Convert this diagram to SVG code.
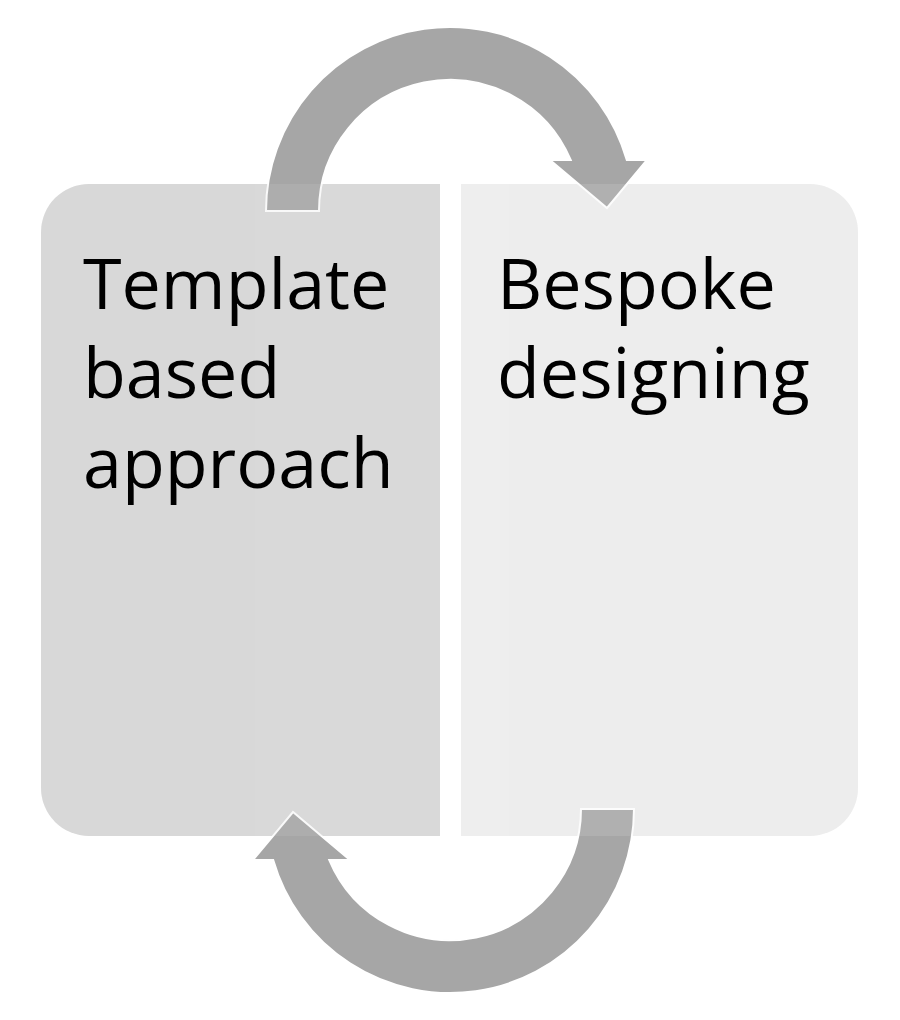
<svg xmlns="http://www.w3.org/2000/svg" xmlns:xlink="http://www.w3.org/1999/xlink" width="900" height="1020" viewBox="0 0 900 1020">
  <style>
    .lbl { font-family: "Open Sans", "Liberation Sans", sans-serif; font-size: 70px; fill: #000000; }
    .arrow { fill: #a6a6a6; stroke: #ffffff; stroke-width: 2; stroke-linejoin: miter; }
  </style>
  <defs>
    <path id="shape-left" d="M 89 184 L 440 184 L 440 836 L 89 836 A 48 48 0 0 1 41 788 L 41 232 A 48 48 0 0 1 89 184 Z"/>
    <path id="shape-right" d="M 461 184 L 810 184 A 48 48 0 0 1 858 232 L 858 788 A 48 48 0 0 1 810 836 L 461 836 Z"/>
    <path id="circ-arrow" d="M 266 211 A 184 184 0 0 1 626.8 160 L 647 160 L 607 208 L 550 160 L 570.7 160 A 131 131 0 0 0 319 211 Z"/>
  </defs>
  <rect width="900" height="1020" fill="#ffffff"/>
  <g id="node-template">
    <use xlink:href="#shape-left" fill="#d9d9d9"/>
  </g>
  <g id="node-bespoke">
    <use xlink:href="#shape-right" fill="#eeeeee"/>
  </g>
  <g id="connectors">
    <use xlink:href="#circ-arrow" class="arrow"/>
    <use xlink:href="#circ-arrow" class="arrow" transform="rotate(180 450 510)"/>
  </g>
  <g id="panel-tint" opacity="0.15">
    <use xlink:href="#shape-left" fill="#d9d9d9"/>
    <use xlink:href="#shape-right" fill="#eeeeee"/>
  </g>
  <g id="labels">
    <text class="lbl" x="83" y="309">Template</text>
    <text class="lbl" x="83" y="398">based</text>
    <text class="lbl" x="83" y="488">approach</text>
    <text class="lbl" x="497" y="309">Bespoke</text>
    <text class="lbl" x="497" y="398">designing</text>
  </g>
</svg>
